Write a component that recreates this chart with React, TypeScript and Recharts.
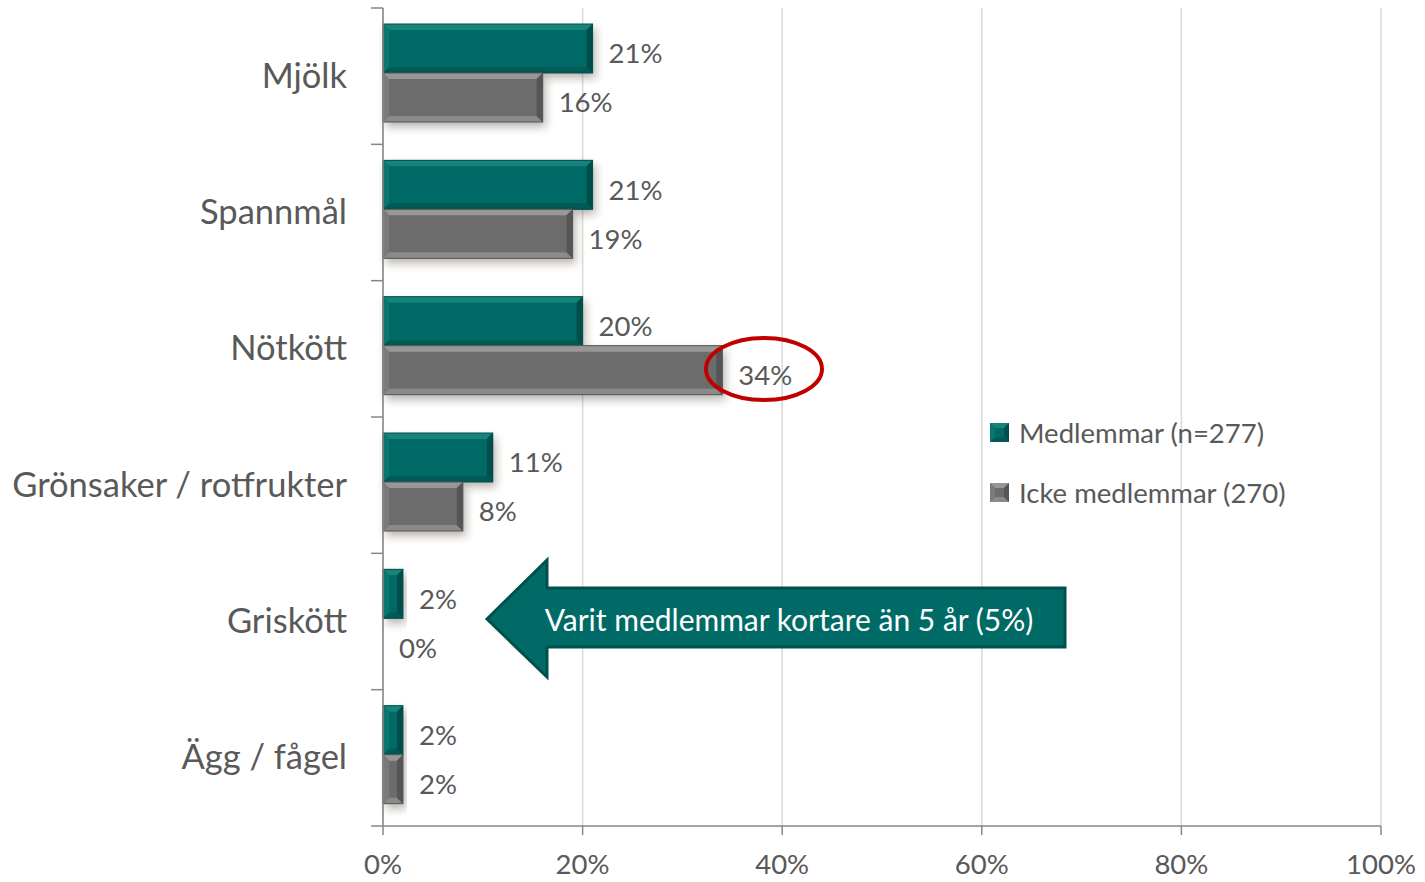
import React from "react";
import { BarChart, Bar, XAxis, YAxis, CartesianGrid, LabelList, Legend } from "recharts";

const categories = ["Mjölk", "Spannmål", "Nötkött", "Grönsaker / rotfrukter", "Griskött", "Ägg / fågel"];
const medlemmar = [21, 21, 20, 11, 2, 2];
const ickeMedlemmar = [16, 19, 34, 8, 0, 2];
const xTicks = [0, 20, 40, 60, 80, 100];
const seriesNames = ["Medlemmar (n=277)", "Icke medlemmar (270)"];
const annotationText = "Varit medlemmar kortare än 5 år (5%)";

const data = categories.map((c, i) => ({ cat: c, m: medlemmar[i], i: ickeMedlemmar[i] }));

const W = 1425;
const H = 882;
const TOP = 8;
const BOTTOM_AXIS = 56;
const LEFT = 383;
const RIGHT = 44;
const PLOT_H = H - TOP - BOTTOM_AXIS;
const BAND = PLOT_H / categories.length;
const FONT = "Lato, 'Open Sans', sans-serif";
const TXT = "#595959";

const TEAL = { base: "#006B66", top: "#16837D", bottom: "#005A56", right: "#004E4A", left: "#0A7670", stroke: "#00504C" };
const GRAY = { base: "#6C6C6C", top: "#979797", bottom: "#8A8A8A", right: "#555555", left: "#7A7A7A", stroke: "#555555" };

const makeShape = (pal: typeof TEAL) => (props: any) => {
  const { x, width, height } = props;
  const y = props.y - 3;
  if (!width || width <= 0) return <g />;
  const b = Math.min(6, width / 2, height / 2);
  const x2 = x + width;
  const y2 = y + height;
  return (
    <g>
      <rect x={x} y={y} width={width} height={height} fill={pal.base} filter="url(#barShadow)" />
      <polygon points={`${x},${y} ${x2},${y} ${x2 - b},${y + b} ${x + b},${y + b}`} fill={pal.top} />
      <polygon points={`${x},${y2} ${x2},${y2} ${x2 - b},${y2 - b} ${x + b},${y2 - b}`} fill={pal.bottom} />
      <polygon points={`${x2},${y} ${x2},${y2} ${x2 - b},${y2 - b} ${x2 - b},${y + b}`} fill={pal.right} />
      <polygon points={`${x},${y} ${x},${y2} ${x + b},${y2 - b} ${x + b},${y + b}`} fill={pal.left} />
      <rect x={x} y={y} width={width} height={height} fill="none" stroke={pal.stroke} strokeWidth={1} />
    </g>
  );
};

const YTick = (props: any) => {
  const { x, y, payload, index } = props;
  const axisX = x + 36;
  return (
    <g>
      <text x={x} y={y - 2} textAnchor="end" dominantBaseline="central" fill={TXT} fontSize={34.5} fontFamily={FONT}>
        {payload.value}
      </text>
      <line x1={axisX - 12} x2={axisX} y1={y - BAND / 2} y2={y - BAND / 2} stroke="#868686" strokeWidth={1.5} />
      {index === categories.length - 1 && (
        <line x1={axisX - 12} x2={axisX} y1={y + BAND / 2} y2={y + BAND / 2} stroke="#868686" strokeWidth={1.5} />
      )}
    </g>
  );
};

const Swatch = ({ pal }: { pal: typeof TEAL }) => {
  const s = 19;
  const b = 5;
  return (
    <svg width={s} height={s} style={{ display: "block" }}>
      <rect x={0} y={0} width={s} height={s} fill={pal.base} />
      <polygon points={`0,0 ${s},0 ${s - b},${b} ${b},${b}`} fill={pal.top} />
      <polygon points={`0,${s} ${s},${s} ${s - b},${s - b} ${b},${s - b}`} fill={pal.bottom} />
      <polygon points={`${s},0 ${s},${s} ${s - b},${s - b} ${s - b},${b}`} fill={pal.right} />
      <polygon points={`0,0 0,${s} ${b},${s - b} ${b},${b}`} fill={pal.left} />
    </svg>
  );
};

const LegendContent = () => (
  <div style={{ fontFamily: FONT, color: TXT, fontSize: 27.5 }}>
    {[TEAL, GRAY].map((p, k) => (
      <div key={k} style={{ display: "flex", alignItems: "center", height: 60 }}>
        <Swatch pal={p} />
        <span style={{ marginLeft: 10 }}>{seriesNames[k]}</span>
      </div>
    ))}
  </div>
);

export default function App() {
  return (
    <div style={{ position: "absolute", left: 0, top: 0, width: W, height: H, background: "#fff" }}>
      <svg width={0} height={0} style={{ position: "absolute" }}>
        <defs>
          <filter id="barShadow" x="-10%" y="-20%" width="130%" height="160%">
            <feDropShadow dx={3} dy={5} stdDeviation={4} floodColor="#3a2a20" floodOpacity={0.35} />
          </filter>
        </defs>
      </svg>
      <BarChart
        width={W}
        height={H}
        data={data}
        layout="vertical"
        margin={{ top: TOP, right: RIGHT, bottom: 0, left: 0 }}
        barGap={0}
        barCategoryGap={0}
      >
        <CartesianGrid horizontal={false} vertical={true} stroke="#D9D9D9" strokeWidth={1.5} />
        <XAxis
          type="number"
          domain={[0, 100]}
          ticks={xTicks}
          height={BOTTOM_AXIS}
          tickFormatter={(v: number) => `${v}%`}
          tick={{ fill: TXT, fontSize: 27.5, fontFamily: FONT }}
          tickSize={9}
          tickMargin={19}
          axisLine={{ stroke: "#868686", strokeWidth: 1.5 }}
          tickLine={{ stroke: "#868686", strokeWidth: 1.5 }}
        />
        <YAxis
          type="category"
          dataKey="cat"
          width={LEFT}
          tick={<YTick />}
          tickSize={0}
          tickMargin={36}
          tickLine={false}
          axisLine={{ stroke: "#868686", strokeWidth: 1.5 }}
          interval={0}
        />
        <Legend
          layout="horizontal"
          verticalAlign="middle"
          align="center"
          content={<LegendContent />}
          wrapperStyle={{ position: "absolute", left: 990, top: 402, width: 340 }}
        />
        <Bar dataKey="m" name={seriesNames[0]} barSize={49} shape={makeShape(TEAL)} isAnimationActive={false}>
          <LabelList dataKey="m" position="right" offset={16} formatter={(v: number) => `${v}%`} fill={TXT} fontSize={27.5} fontFamily={FONT} dy={2} />
        </Bar>
        <Bar dataKey="i" name={seriesNames[1]} barSize={49} shape={makeShape(GRAY)} isAnimationActive={false}>
          <LabelList dataKey="i" position="right" offset={16} formatter={(v: number) => `${v}%`} fill={TXT} fontSize={27.5} fontFamily={FONT} dy={2} />
        </Bar>
      </BarChart>
      <svg width={W} height={H} style={{ position: "absolute", left: 0, top: 0, pointerEvents: "none" }}>
        <polygon
          points="487,619 547,560 547,588 1065,588 1065,647 547,647 547,677"
          fill="#006B66"
          stroke="#00504C"
          strokeWidth={3}
          strokeLinejoin="miter"
        />
        <text x={789} y={619} textAnchor="middle" dominantBaseline="central" fill="#ffffff" fontSize={30} fontFamily={FONT}>
          {annotationText}
        </text>
        <ellipse cx={764} cy={369} rx={58} ry={31} fill="none" stroke="#C00000" strokeWidth={4} />
      </svg>
    </div>
  );
}
